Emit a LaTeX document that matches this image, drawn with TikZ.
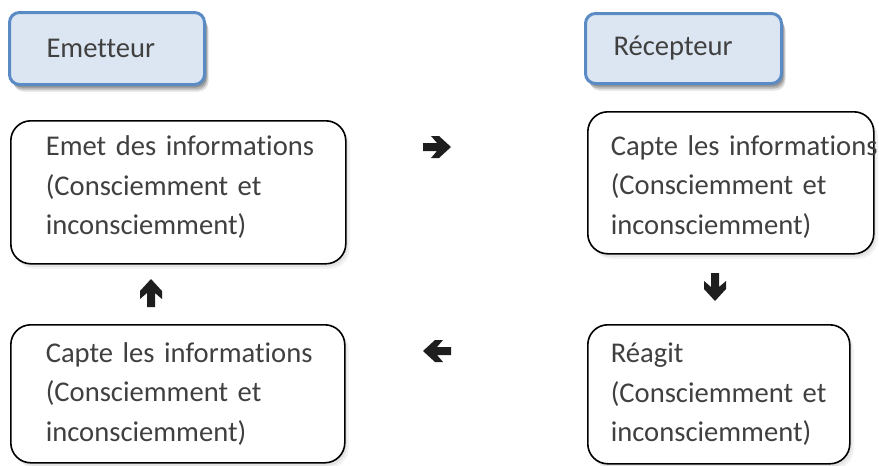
\documentclass[tikz,border=0pt]{standalone}
\usepackage{fontspec}
\setmainfont{Carlito}[Ligatures=NoCommon]
\usetikzlibrary{shadows}
\definecolor{hdrblue}{HTML}{5B8BC5}
\definecolor{hdrfill}{HTML}{DCE6F2}
\definecolor{txtgray}{HTML}{404040}
\definecolor{arrowdark}{HTML}{1E1E1E}
\tikzset{
  bodyfont/.style={font=\fontsize{28.6}{39.5}\selectfont, text=txtgray},
  hdrbox/.style={draw=hdrblue, line width=3pt, fill=hdrfill, rounded corners=10pt,
    bodyfont, anchor=north west, align=left, inner ysep=0pt,
    drop shadow={shadow xshift=4pt, shadow yshift=-7pt, fill=black, opacity=.12},
    drop shadow={shadow xshift=3pt, shadow yshift=-5pt, fill=black, opacity=.18},
    drop shadow={shadow xshift=2pt, shadow yshift=-3pt, fill=black, opacity=.2}},
  infobox/.style={draw=black, line width=1.6pt, fill=white, rounded corners=20pt,
    bodyfont, anchor=north west, align=left, inner ysep=0pt,
    drop shadow={shadow xshift=4pt, shadow yshift=-5pt, fill=black, opacity=.05},
    drop shadow={shadow xshift=2pt, shadow yshift=-3pt, fill=black, opacity=.06}},
  bigarrow/.pic={\fill[arrowdark] (-14,-4) -- (0,-4) -- (-6,-11) -- (2,-11) -- (14,0)
      -- (2,11) -- (-6,11) -- (0,4) -- (-14,4) -- cycle;}
}
\begin{document}
\begin{tikzpicture}[x=1pt, y=-1pt]
\useasboundingbox (0,0) rectangle (879,466);
% headers
\node[hdrbox, minimum width=195pt, minimum height=72pt, inner xsep=37pt, text width=121pt]
  (emetteur) at (8,11) {Emetteur};
\node[hdrbox, minimum width=196pt, minimum height=70pt, inner xsep=28pt, text width=140pt]
  (recepteur) at (584,12) {Récepteur};
% boxes
\node[infobox, minimum width=335pt, minimum height=143pt, inner xsep=35pt, text width=265pt]
  (emet) at (10,120) {\mbox{Emet des informations}\\\mbox{(Consciemment et}\\\mbox{inconsciemment)}\par\vspace*{10pt}};
\node[infobox, minimum width=286pt, minimum height=142pt, inner xsep=23pt, text width=240pt]
  (capter) at (587,111) {\mbox{Capte les informations}\\\mbox{(Consciemment et}\\\mbox{inconsciemment)}\par\vspace*{-8pt}};
\node[infobox, minimum width=334pt, minimum height=138pt, inner xsep=35pt, text width=264pt]
  (captel) at (10,324) {\mbox{Capte les informations}\\\mbox{(Consciemment et}\\\mbox{inconsciemment)}};
\node[infobox, minimum width=262pt, minimum height=139pt, inner xsep=23pt, text width=216pt]
  (reagit) at (587,324) {\mbox{Réagit}\\\mbox{(Consciemment et}\\\mbox{inconsciemment)}};
% arrows
\pic at (437,147) {bigarrow};
\pic[rotate=-90] at (715,287) {bigarrow};
\pic[rotate=180] at (437,351) {bigarrow};
\pic[rotate=90] at (151,293) {bigarrow};
\end{tikzpicture}
\end{document}
